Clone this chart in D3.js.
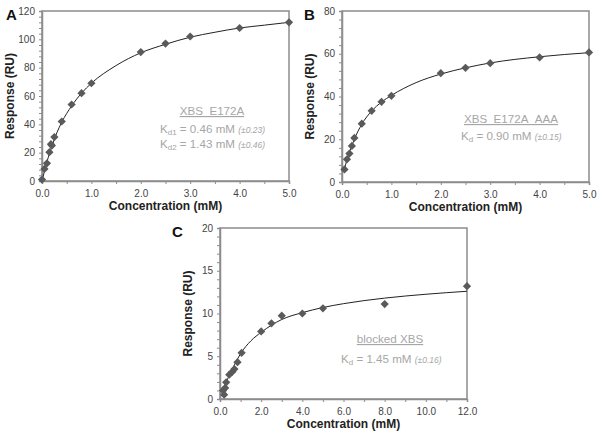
<!DOCTYPE html>
<html><head><meta charset="utf-8">
<script src="https://cdn.jsdelivr.net/npm/d3@7"></script>
<style>body{margin:0;background:#fff}svg{display:block}</style>
</head><body>
<svg id="c" width="602" height="439"></svg>
<script>
// Panel A data
const aConc = [0, 0.05, 0.1, 0.15, 0.18, 0.2, 0.25, 0.4, 0.6, 0.8, 1.0, 2.0, 2.5, 3.0, 4.0, 5.0];
const aResp = [1, 8.5, 12.5, 20.3, 26, 25, 31, 42, 54, 62, 69, 91, 97, 102, 108, 112];
const aFitX = [0, 0.05, 0.1, 0.2, 0.3, 0.4, 0.6, 0.8, 1.0, 1.5, 2.0, 2.5, 3.0, 3.5, 4.0, 4.5, 5.0];
const aFitY = [0, 7, 13.5, 24.5, 34, 41.5, 53, 62, 69, 81.5, 90.5, 96.5, 101.5, 105, 108, 110, 112];
// Panel B data
const bConc = [0.05, 0.1, 0.15, 0.2, 0.25, 0.4, 0.6, 0.8, 1.0, 2.0, 2.5, 3.0, 4.0, 5.0];
const bResp = [5.9, 10.6, 13.3, 16.9, 20.6, 27.3, 33.3, 37.5, 40.3, 50.9, 53.4, 55.6, 58.3, 60.6];
const bFitX = [0.05, 0.1, 0.15, 0.2, 0.25, 0.4, 0.6, 0.8, 1.0, 1.5, 2.0, 2.5, 3.0, 4.0, 5.0];
const bFitY = [6, 10.5, 14, 17, 20, 27, 33.2, 37.4, 40.5, 46.5, 50.5, 53.4, 55.7, 58.6, 60.5];
// Panel C data
const cConc = [0.2, 0.15, 0.25, 0.3, 0.45, 0.6, 0.7, 0.85, 1.05, 2.0, 2.5, 3.0, 4.0, 5.0, 8.0, 12.0];
const cResp = [0.5, 1.0, 1.3, 1.95, 2.85, 3.2, 3.5, 4.3, 5.4, 7.9, 8.85, 9.75, 10.0, 10.6, 11.1, 13.2];
const cFitX = [0.15, 0.3, 0.5, 0.7, 1.0, 1.5, 2.0, 3.0, 4.0, 5.0, 6.0, 8.0, 10.0, 12.0];
const cFitY = [0.6, 1.9, 3.0, 4.0, 5.3, 6.8, 7.8, 9.3, 10.1, 10.7, 11.15, 11.8, 12.25, 12.6];

const aXTicks = [0, 1, 2, 3, 4, 5], aYTicks = [0, 20, 40, 60, 80, 100, 120];
const bXTicks = [0, 1, 2, 3, 4, 5], bYTicks = [0, 20, 40, 60, 80];
const cXTicks = [0, 2, 4, 6, 8, 10, 12], cYTicks = [0, 5, 10, 15, 20];

const svg = d3.select("#c");
const FONT = "'Liberation Sans', Arial, sans-serif";
const GRAY = "#8c8c8c", MARK = "#5a5a5a", TXT = "#a6a6a6";

function panel(o) {
  const x = d3.scaleLinear().domain(o.xd).range(o.xr);
  const y = d3.scaleLinear().domain(o.yd).range(o.yr);
  const g = svg.append("g");
  g.append("rect").attr("x", o.xr[0]).attr("y", o.yr[1])
    .attr("width", o.xr[1] - o.xr[0]).attr("height", o.yr[0] - o.yr[1])
    .attr("fill", "none").attr("stroke", GRAY).attr("stroke-width", 1.5);
  const xMinor = d3.range(o.xd[0], o.xd[1] + 1e-9, o.xMinor);
  const xa = g.append("g").attr("transform", `translate(0,${o.yr[0]})`)
    .call(d3.axisBottom(x).tickValues(xMinor).tickSize(3)
      .tickFormat(d => o.xTicks.some(t => Math.abs(t - d) < 1e-9) ? d3.format(".1f")(d) : ""));
  const yMinor = d3.range(o.yd[0], o.yd[1] + 1e-9, o.yMinor);
  const ya = g.append("g").attr("transform", `translate(${o.xr[0]},0)`)
    .call(d3.axisLeft(y).tickValues(yMinor).tickSize(3).tickPadding(4)
      .tickFormat(d => o.yTicks.some(t => Math.abs(t - d) < 1e-9) ? d : ""));
  [xa, ya].forEach(a => {
    a.select(".domain").attr("stroke", GRAY).attr("stroke-width", 1.5);
    a.selectAll(".tick line").attr("stroke", GRAY);
    a.selectAll("text").attr("font-family", FONT).attr("font-size", 10).attr("fill", "#444");
  });
  xa.selectAll("text").attr("dy", "0.95em");
  const line = d3.line().x(d => x(d[0])).y(d => y(d[1])).curve(d3.curveMonotoneX);
  g.append("path").datum(d3.zip(o.fx, o.fy)).attr("d", line)
    .attr("fill", "none").attr("stroke", "#222").attr("stroke-width", 1);
  g.selectAll(".pt").data(d3.zip(o.px, o.py)).join("path")
    .attr("d", d3.symbol(d3.symbolSquare, 34)())
    .attr("transform", d => `translate(${x(d[0])},${y(d[1])}) rotate(45)`)
    .attr("fill", MARK);
  const cx = (o.xr[0] + o.xr[1]) / 2, cy = (o.yr[0] + o.yr[1]) / 2;
  g.append("text").attr("x", cx).attr("y", o.yr[0] + 29).attr("text-anchor", "middle")
    .attr("font-family", FONT).attr("font-weight", "bold").attr("font-size", 12)
    .attr("fill", "#222").text("Concentration (mM)");
  g.append("text").attr("transform", `translate(${o.xr[0] - 28},${cy}) rotate(-90)`)
    .attr("text-anchor", "middle").attr("font-family", FONT).attr("font-weight", "bold")
    .attr("font-size", 12).attr("fill", "#222").text("Response (RU)");
  g.append("text").attr("x", o.letterX).attr("y", o.yr[1] + 9).attr("font-family", FONT)
    .attr("font-weight", "bold").attr("font-size", 15).attr("fill", "#111").text(o.letter);
  return {x, y, g};
}

function kdLine(g, xStart, yBase, sub, val, err) {
  const t = g.append("text").attr("x", xStart).attr("y", yBase)
    .attr("font-family", FONT).attr("font-size", 11.6).attr("fill", TXT);
  t.append("tspan").text("K");
  t.append("tspan").attr("font-size", 8).attr("dy", 2).text(sub);
  t.append("tspan").attr("dy", -2).text(" = " + val + " ");
  t.append("tspan").attr("font-size", 8.5).attr("font-style", "italic").text(err);
}
function title(g, cx, yBase, s) {
  g.append("text").attr("x", cx).attr("y", yBase).attr("text-anchor", "middle")
    .attr("font-family", FONT).attr("font-size", 11.6).attr("fill", TXT)
    .attr("text-decoration", "underline").text(s);
}

const A = panel({xd: [0, 5], yd: [0, 120], xr: [42, 289], yr: [181, 11], xMinor: 0.5, yMinor: 4,
  xTicks: aXTicks, yTicks: aYTicks, px: aConc, py: aResp, fx: aFitX, fy: aFitY, letter: "A", letterX: 6});
title(A.g, 212, 115, "XBS_E172A");
kdLine(A.g, 160, 133, "d1", "0.46 mM", "(±0.23)");
kdLine(A.g, 160, 148, "d2", "1.43 mM", "(±0.46)");

const B = panel({xd: [0, 5], yd: [0, 80], xr: [342, 589], yr: [182, 11], xMinor: 0.5, yMinor: 4,
  xTicks: bXTicks, yTicks: bYTicks, px: bConc, py: bResp, fx: bFitX, fy: bFitY, letter: "B", letterX: 304});
title(B.g, 511, 123, "XBS_E172A_AAA");
kdLine(B.g, 461, 140, "d", "0.90 mM", "(±0.15)");

const C = panel({xd: [0, 12], yd: [0, 20], xr: [220, 467], yr: [399, 228], xMinor: 1, yMinor: 1,
  xTicks: cXTicks, yTicks: cYTicks, px: cConc, py: cResp, fx: cFitX, fy: cFitY, letter: "C", letterX: 172});
title(C.g, 390, 343, "blocked XBS");
kdLine(C.g, 341, 363, "d", "1.45 mM", "(±0.16)");
</script>
</body></html>
